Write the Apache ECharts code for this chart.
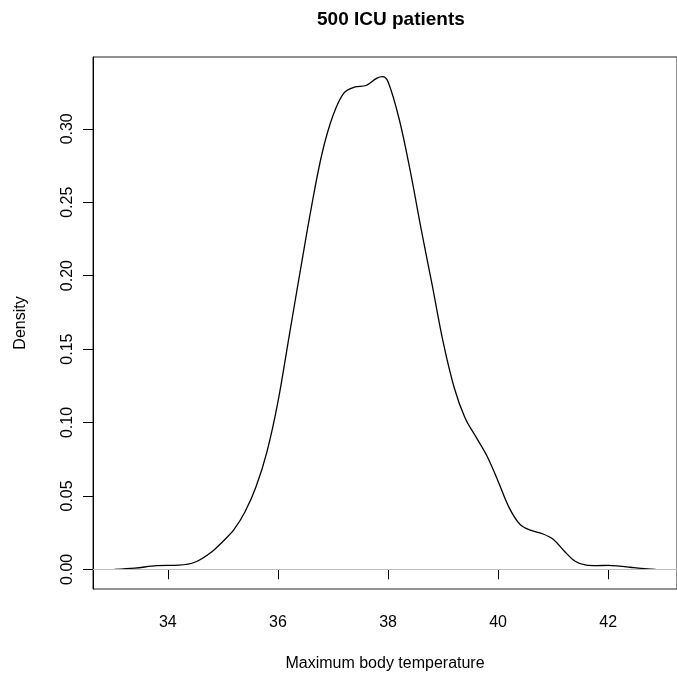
<!DOCTYPE html>
<html>
<head>
<meta charset="utf-8">
<script src="https://cdn.jsdelivr.net/npm/echarts@6/dist/echarts.min.js"></script>
<style>html,body{margin:0;padding:0;background:#fff}#c{width:677px;height:677px}</style>
</head>
<body>
<div id="c"></div>
<script>
// Temperature (x) and estimated density (y)
const temps = [33.03,33.4,33.8,34.2,34.5,34.8,35.0,35.2,35.4,35.6,35.8,36.0,36.2,36.4,36.6,36.8,37.0,37.2,37.4,37.6,37.8,37.9,38.0,38.2,38.4,38.6,38.8,39.0,39.2,39.4,39.6,39.8,40.0,40.2,40.4,40.6,40.8,41.0,41.2,41.4,41.6,41.8,42.0,42.2,42.4,42.6,42.86];
const density = [0,0.0008,0.0025,0.0028,0.005,0.012,0.019,0.027,0.039,0.056,0.080,0.114,0.158,0.202,0.245,0.283,0.309,0.3245,0.3285,0.3295,0.3345,0.3355,0.332,0.307,0.272,0.232,0.194,0.155,0.124,0.103,0.090,0.077,0.060,0.042,0.0305,0.0265,0.0243,0.0205,0.0125,0.0055,0.0028,0.0025,0.0027,0.0022,0.0014,0.0006,0];
const xTicks = [34,36,38,40,42];
const yTicks = [0.00,0.05,0.10,0.15,0.20,0.25,0.30];
const titleText = '500 ICU patients';
const xName = 'Maximum body temperature';
const yName = 'Density';

const xMin = 32.64, xMax = 43.25, yMin = -0.0134, yMax = 0.3489;
const font = 'Liberation Sans, Arial, Helvetica, sans-serif';

const chart = echarts.init(document.getElementById('c'), null, {renderer: 'canvas'});
chart.setOption({
  animation: false,
  backgroundColor: '#fff',
  title: {
    text: titleText, left: 312, top: 5,
    textStyle: {fontFamily: font, fontWeight: 'bold', fontSize: 19, color: '#000'}
  },
  grid: {left: 93, top: 57, right: -10, bottom: 87, show: true, borderColor: '#222', borderWidth: 1, backgroundColor: 'transparent'},
  xAxis: {
    type: 'value', min: xMin, max: xMax,
    name: xName, nameLocation: 'middle', nameGap: 67,
    nameTextStyle: {fontFamily: font, fontSize: 16, color: '#000'},
    axisLine: {show: true, lineStyle: {color: '#000', width: 1}},
    axisTick: {show: true, length: 10, inside: false, customValues: xTicks, lineStyle: {color: '#000'}},
    axisLabel: {show: true, customValues: xTicks, margin: 26, fontFamily: font, fontSize: 16, color: '#000', formatter: v => String(v)},
    splitLine: {show: false}
  },
  yAxis: {
    type: 'value', min: yMin, max: yMax,
    name: yName, nameLocation: 'middle', nameGap: 64, nameRotate: 90,
    nameTextStyle: {fontFamily: font, fontSize: 16, color: '#000'},
    axisLine: {show: true, lineStyle: {color: '#000', width: 1}},
    axisTick: {show: true, length: 10, customValues: yTicks, lineStyle: {color: '#000'}},
    axisLabel: {show: true, customValues: yTicks, rotate: 90, margin: 17, fontFamily: font, fontSize: 16, color: '#000', formatter: v => v.toFixed(2)},
    splitLine: {show: false}
  },
  series: [{
    type: 'line',
    data: temps.map((t, i) => [t, density[i]]),
    showSymbol: false,
    smooth: 0.35,
    lineStyle: {color: '#000', width: 1.3},
    markLine: {
      silent: true, symbol: 'none', label: {show: false},
      lineStyle: {color: '#BEBEBE', width: 1, type: 'solid'},
      data: [{yAxis: 0}]
    },
    z: 3
  }]
});
</script>
</body>
</html>
